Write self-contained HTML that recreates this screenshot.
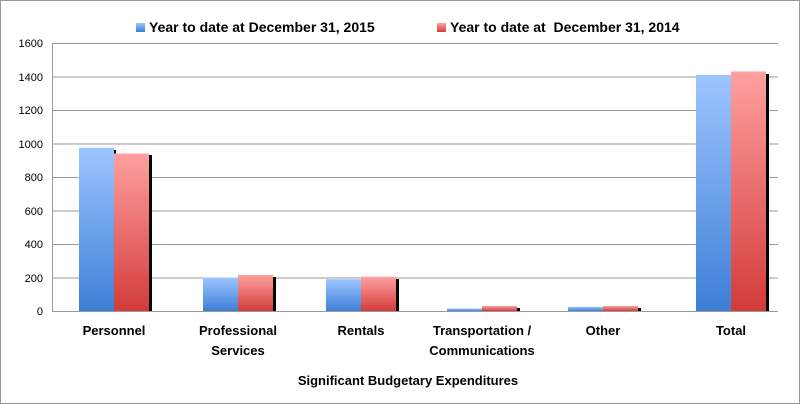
<!DOCTYPE html><html><head><style>body{margin:0;background:#fff}</style></head><body>
<svg width="800" height="404" xmlns="http://www.w3.org/2000/svg" font-family="Liberation Sans, sans-serif">
<defs>
<linearGradient id="b" x1="0" y1="0" x2="0" y2="1"><stop offset="0" stop-color="#9ec5ff"/><stop offset="1" stop-color="#3d7fd6"/></linearGradient>
<linearGradient id="r" x1="0" y1="0" x2="0" y2="1"><stop offset="0" stop-color="#ffa0a0"/><stop offset="1" stop-color="#d23c3a"/></linearGradient>
</defs>
<rect x="0.5" y="0.5" width="799" height="403" fill="#fff" stroke="#999"/>
<g stroke="#999" stroke-width="1">
<line x1="52" y1="43.5" x2="778" y2="43.5"/><line x1="52" y1="77" x2="778" y2="77"/><line x1="52" y1="110.5" x2="778" y2="110.5"/><line x1="52" y1="144" x2="778" y2="144"/><line x1="52" y1="177.5" x2="778" y2="177.5"/><line x1="52" y1="211" x2="778" y2="211"/><line x1="52" y1="244.5" x2="778" y2="244.5"/><line x1="52" y1="278" x2="778" y2="278"/><line x1="52" y1="311.5" x2="778" y2="311.5"/>
<line x1="52.5" y1="43" x2="52.5" y2="312"/>
</g>
<g font-size="11" text-anchor="end" fill="#000">
<text x="43" y="47">1600</text><text x="43" y="81">1400</text><text x="43" y="114">1200</text><text x="43" y="148">1000</text><text x="43" y="181">800</text><text x="43" y="215">600</text><text x="43" y="248">400</text><text x="43" y="282">200</text><text x="43" y="315">0</text>
</g>
<g id="bars">
<!-- shadows -->
<g fill="#000">
<rect x="149" y="155" width="3" height="156"/><rect x="114" y="150" width="2" height="6"/>
<rect x="273" y="277" width="3" height="34"/>
<rect x="396" y="279" width="3" height="32"/>
<rect x="517" y="308" width="3" height="3"/>
<rect x="638" y="308" width="3" height="3"/>
<rect x="766" y="74" width="3" height="237"/>
</g>
<rect x="79" y="147.7" width="35" height="163.3" fill="url(#b)"/>
<rect x="114" y="153.5" width="35" height="157.5" fill="url(#r)"/>
<rect x="203" y="277.5" width="35" height="33.5" fill="url(#b)"/>
<rect x="238" y="275" width="35" height="36" fill="url(#r)"/>
<rect x="326" y="279.2" width="35" height="31.8" fill="url(#b)"/>
<rect x="361" y="276.7" width="35" height="34.3" fill="url(#r)"/>
<rect x="447" y="308.5" width="35" height="2.5" fill="url(#b)"/>
<rect x="482" y="306" width="35" height="5" fill="url(#r)"/>
<rect x="568" y="306.8" width="35" height="4.2" fill="url(#b)"/>
<rect x="603" y="306" width="35" height="5" fill="url(#r)"/>
<rect x="696" y="74.8" width="35" height="236.2" fill="url(#b)"/>
<rect x="731" y="71.5" width="35" height="239.5" fill="url(#r)"/>
</g>
<g font-size="13" font-weight="bold" text-anchor="middle" fill="#000">
<text x="114" y="335">Personnel</text>
<text x="238" y="335">Professional</text><text x="238" y="355">Services</text>
<text x="361" y="335">Rentals</text>
<text x="482" y="335">Transportation /</text><text x="482" y="355">Communications</text>
<text x="603" y="335">Other</text>
<text x="731" y="335">Total</text>
<text x="408" y="385">Significant Budgetary Expenditures</text>
</g>
<rect x="136" y="23" width="9" height="9" fill="url(#b)"/>
<rect x="437" y="23" width="9" height="9" fill="url(#r)"/>
<g font-size="14" font-weight="bold" fill="#000">
<text x="149" y="32">Year to date at December 31, 2015</text>
<text x="450" y="32" xml:space="preserve">Year to date at  December 31, 2014</text>
</g>
</svg>
</body></html>
